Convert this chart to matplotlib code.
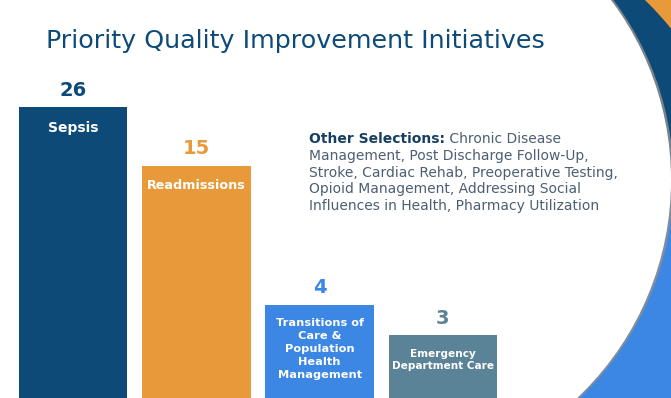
import matplotlib
matplotlib.use('Agg')
import matplotlib.pyplot as plt
import matplotlib.patches as mpatches
import numpy as np

# datos
categorias = ['Sepsis', 'Readmissions',
              'Transitions of\nCare &\nPopulation\nHealth\nManagement',
              'Emergency\nDepartment Care']
valores = [26, 15, 4, 3]
colores = ['#0d4a78', '#e89a3b', '#3b87e3', '#5b8398']
titulo = "Priority Quality Improvement Initiatives"
otras_titulo = "Other Selections:"
otras_linea1 = " Chronic Disease"
otras_resto = ("Management, Post Discharge Follow-Up,\n"
               "Stroke, Cardiac Rehab, Preoperative Testing,\n"
               "Opioid Management, Addressing Social\n"
               "Influences in Health, Pharmacy Utilization")

W, H = 671, 398
fig = plt.figure(figsize=(W / 100, H / 100), dpi=100)
fig.patch.set_facecolor('white')

# ----- decoracion del borde derecho (coordenadas en pixeles) -----
deco = fig.add_axes([0, 0, 1, 1], zorder=0)
deco.set_xlim(0, W)
deco.set_ylim(H, 0)
deco.set_axis_off()
zona = mpatches.Rectangle((545, -5), 140, 410, transform=deco.transData)
capas = [
    mpatches.Rectangle((560, -5), 120, 200, color='#e89a3b', lw=0),
    mpatches.Circle((400, 250), 350, color='#0d4a78', lw=0),
    mpatches.Rectangle((560, 178), 120, 230, color='#3b87e3', lw=0),
    mpatches.Circle((373.5, 180), 300, color='#8f8f8f', lw=0, alpha=0.85),
    mpatches.Circle((371, 180), 300, color='white', lw=0),
]
for p in capas:
    deco.add_patch(p)
    p.set_clip_path(zona)
# todo lo que queda a la izquierda es blanco
deco.add_patch(mpatches.Rectangle((-5, -5), 560, 410, color='white', lw=0))

# ----- barras -----
base = 1
ax = fig.add_axes([0, 0, 1, 1], zorder=1)
ax.patch.set_alpha(0)
x = np.arange(len(valores))
ax.bar(x, np.array(valores) - base, width=0.88, bottom=base, color=colores, zorder=2)
ax.set_yscale('log')
ax.set_ylim(1.66, 71.9)
ax.set_xlim(-0.592, 4.85)
ax.set_axis_off()

tamanos = [10, 9.2, 8.2, 7.6]
interlineado = [1.1, 1.1, 1.38, 1.32]
for i, (v, cat, c) in enumerate(zip(valores, categorias, colores)):
    ax.annotate(str(v), xy=(i, v), xytext=(0, 12.5), textcoords='offset points',
                ha='center', va='center', fontsize=14, fontweight='bold', color=c)
    ax.annotate(cat, xy=(i, v), xytext=(0, -9.5), textcoords='offset points',
                ha='center', va='top', fontsize=tamanos[i], fontweight='bold',
                color='white', linespacing=interlineado[i])

# titulos y textos
fig.text(46 / W, 1 - 41 / H, titulo, fontsize=18.3, color='#0d4a78',
         ha='left', va='center')

t1 = fig.text(309 / W, 1 - 146 / H, otras_titulo, fontsize=10, fontweight='bold',
              color='#173f63', ha='left', va='bottom')
ax.annotate(otras_linea1, xy=(1, 0), xycoords=t1, ha='left', va='bottom',
            fontsize=10, color='#4d5f72')
fig.text(309 / W, 1 - 149 / H, otras_resto, fontsize=10, color='#4d5f72',
         ha='left', va='top', linespacing=1.25)

fig.savefig('out.png', dpi=100, facecolor='white')
